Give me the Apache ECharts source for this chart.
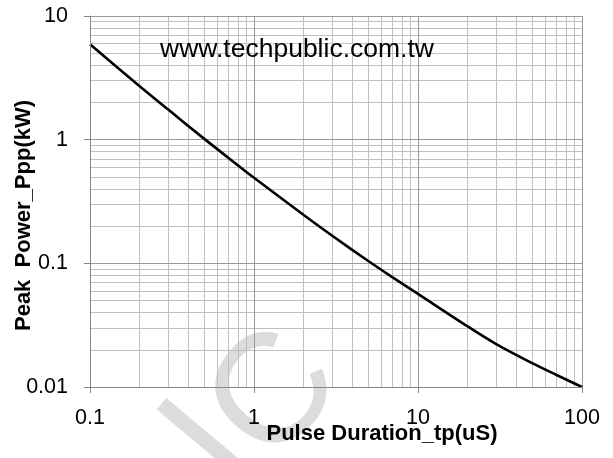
<!DOCTYPE html>
<html>
<head>
<meta charset="utf-8">
<script src="https://cdn.jsdelivr.net/npm/echarts@6/dist/echarts.min.js"></script>
<style>
html,body{margin:0;padding:0;background:#fff;}
#chart{width:613px;height:458px;}
</style>
</head>
<body>
<div id="chart"></div>
<script>
// Data
const pulseDuration = [0.1, 0.2, 0.3, 0.5, 0.7, 1, 2, 3, 5, 7, 10, 20, 30, 50, 70, 100]; // uS
const peakPower = [5.9, 2.72, 1.75, 1.01, 0.711, 0.492, 0.247, 0.167, 0.104, 0.0771, 0.0566, 0.031, 0.0222, 0.0155, 0.0125, 0.01]; // kW
const xTicks = [0.1, 1, 10, 100];
const yTicks = [0.01, 0.1, 1, 10];
const xMinorGrid = [0.2,0.3,0.4,0.5,0.6,0.7,0.8,0.9,2,3,4,5,6,7,8,9,20,30,40,50,60,70,80,90];
const yMinorGrid = [0.02,0.03,0.04,0.05,0.06,0.07,0.08,0.09,0.2,0.3,0.4,0.5,0.6,0.7,0.8,0.9,2,3,4,5,6,7,8,9];
const websiteText = 'www.techpublic.com.tw';
const xTitle = 'Pulse Duration_tp(uS)';
const yTitle = 'Peak  Power_Ppp(kW)';

const chart = echarts.init(document.getElementById('chart'), null, {renderer: 'canvas'});
const minorStyle = {color: '#c0c0c0', type: 'solid', width: 1};
const majorStyle = {color: '#999999', type: 'solid', width: 1};
const gridLines = []
  .concat(xMinorGrid.map(v => ({xAxis: v, lineStyle: minorStyle})))
  .concat(yMinorGrid.map(v => ({yAxis: v, lineStyle: minorStyle})))
  .concat(xTicks.map(v => ({xAxis: v, lineStyle: majorStyle})))
  .concat(yTicks.map(v => ({yAxis: v, lineStyle: majorStyle})));
const tickFmt = v => String(+(+v).toPrecision(3));
const wmRot = Math.PI * 50 / 180;
const font = 'Liberation Sans, Arial';

chart.setOption({
  animation: false,
  backgroundColor: '#ffffff',
  grid: {left: 90, right: 31, top: 16, bottom: 71, containLabel: false, outerBoundsMode: 'none'},
  xAxis: {
    type: 'log', logBase: 10, min: xTicks[0], max: xTicks[xTicks.length - 1], z: 10,
    name: xTitle, nameLocation: 'middle', nameGap: 36, nameMoveOverlap: false,
    nameTextStyle: {fontFamily: font, fontWeight: 'bold', fontSize: 22, color: '#000', padding: [0, 0, 0, 92]},
    axisLine: {show: true, lineStyle: {color: '#888', width: 1}},
    axisTick: {show: true, inside: false, length: 6, lineStyle: {color: '#888'}},
    axisLabel: {margin: 20, fontFamily: font, fontSize: 21.5, color: '#000', formatter: tickFmt},
    splitLine: {show: false},
    minorTick: {show: false}, minorSplitLine: {show: false}
  },
  yAxis: {
    type: 'log', logBase: 10, min: yTicks[0], max: yTicks[yTicks.length - 1], z: 10,
    name: yTitle, nameLocation: 'middle', nameGap: 55, nameRotate: 90, nameMoveOverlap: false,
    nameTextStyle: {fontFamily: font, fontWeight: 'bold', fontSize: 22, color: '#000', padding: [0, 28, 0, 0]},
    axisLine: {show: true, lineStyle: {color: '#888', width: 1}},
    axisTick: {show: true, inside: false, length: 6, lineStyle: {color: '#888'}},
    axisLabel: {margin: 22, fontFamily: font, fontSize: 21.5, color: '#000', formatter: tickFmt},
    splitLine: {show: false},
    minorTick: {show: false}, minorSplitLine: {show: false}
  },
  graphic: [
    {
      type: 'text', left: 160, top: 36, z: 50,
      style: {text: websiteText, font: '26.5px "Liberation Sans", Arial', fill: '#000'}
    },
    {
      type: 'text', x: 212, y: 446, rotation: wmRot, z: 5, silent: true,
      style: {text: 'I', font: '160px "Liberation Sans", Arial', fill: '#dcdcdc', textAlign: 'center', textVerticalAlign: 'middle'}
    },
    {
      type: 'text', x: 277, y: 397, rotation: wmRot, z: 5, silent: true,
      style: {text: 'C', font: '156px "Liberation Sans", Arial', fill: '#dcdcdc', textAlign: 'center', textVerticalAlign: 'middle'}
    }
  ],
  series: [
    {
      type: 'line', data: [], silent: true, z: 1,
      markLine: {
        silent: true, symbol: ['none', 'none'], animation: false,
        label: {show: false},
        lineStyle: minorStyle,
        emphasis: {disabled: true},
        data: gridLines
      }
    },
    {
      type: 'line', z: 6,
      data: pulseDuration.map((x, i) => [x, peakPower[i]]),
      smooth: 0.3, showSymbol: false, symbol: 'none',
      lineStyle: {color: '#000', width: 2.6}
    }
  ]
});
</script>
</body>
</html>
